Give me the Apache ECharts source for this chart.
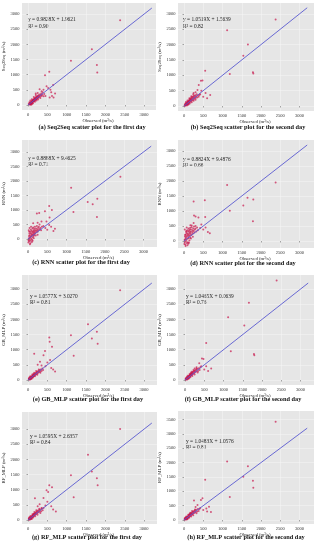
<!DOCTYPE html>
<html><head><meta charset="utf-8">
<script src="https://cdn.jsdelivr.net/npm/echarts@6/dist/echarts.min.js"></script>
<style>html,body{margin:0;padding:0;background:#fff}#c{width:316px;height:550px}</style>
</head><body><div id="c"></div>
<script>
// ---------- DATA ----------
const tickValues = [0, 500, 1000, 1500, 2000, 2500, 3000];
const tickValuesH = [0, 500, 1000, 1500, 2000, 2500, 3000, 3500];
const identityLine = [[0, 0], [3200, 3200]];

const seq2seqDay1 = [[20,30],[30,15],[40,50],[45,25],[50,60],[55,40],[60,80],[65,35],[70,70],[75,55],[80,100],[85,60],[90,90],[95,120],[100,75],[105,110],[110,140],[115,95],[120,130],[125,160],[130,105],[135,150],[140,180],[145,120],[150,170],[155,135],[160,200],[165,150],[170,190],[175,230],[180,160],[185,210],[190,175],[200,240],[205,190],[210,260],[220,200],[225,280],[230,215],[240,250],[250,300],[255,230],[260,270],[270,320],[280,250],[290,300],[300,350],[310,280],[320,230],[330,330],[340,380],[350,300],[370,340],[380,420],[400,290],[420,360],[60,150],[100,190],[150,260],[200,330],[90,20],[130,60],[180,110],[220,150],[260,180],[35,90],[70,10],[110,40],
[480,620],[520,560],[600,420],[650,660],[700,380],[300,520],[350,450],[620,300],[560,250],[250,400],[200,380],[450,300],[580,500],[400,500],[660,250],
[2380,2800],[1650,1840],[1110,1460],[1780,1320],[1790,1070],[550,1100],[440,980]];

const seq2seqDay2 = [[15,20],[25,40],[30,10],[40,60],[45,30],[55,75],[60,45],[65,100],[70,55],[80,85],[85,130],[90,70],[100,110],[105,150],[110,90],[120,140],[125,180],[130,115],[140,160],[145,210],[150,130],[160,190],[165,240],[170,150],[180,210],[185,270],[190,170],[200,230],[210,290],[215,190],[225,250],[235,310],[240,210],[250,270],[260,330],[270,240],[280,290],[290,350],[300,260],[315,320],[330,380],[340,280],[360,340],[380,300],[400,360],[50,130],[90,180],[140,250],[190,320],[240,380],[100,40],[150,80],[200,120],[250,170],[300,200],[35,80],[75,20],[120,60],
[680,360],[383,684],[300,450],[420,380],[500,300],[560,420],[250,420],[350,520],[600,250],[450,500],
[2380,2820],[1120,2470],[1660,2000],[1540,1640],[1790,1100],[1800,1060],[1190,1040],[550,1150],[440,820],[480,830]];

const rnnDay1 = [[10,-120],[15,-50],[20,20],[25,100],[30,-80],[35,180],[40,40],[45,-20],[50,120],[55,250],[60,60],[65,-60],[70,200],[75,320],[80,90],[85,10],[90,160],[95,280],[100,120],[105,-30],[110,220],[115,360],[120,150],[125,60],[130,260],[135,400],[140,180],[145,100],[150,300],[155,220],[160,140],[165,350],[170,260],[175,180],[180,420],[190,300],[200,220],[210,360],[220,280],[230,450],[240,320],[250,250],[260,380],[270,300],[280,420],[300,340],[320,380],[340,300],[360,420],[20,300],[40,380],[60,-150],[100,-100],[150,30],[200,120],[250,150],[30,250],[50,-180],[80,420],[120,-60],
[134,540],[300,500],[400,450],[450,380],[500,320],[550,480],[600,420],[661,276],[350,600],[250,560],[480,600],[700,350],
[2400,2150],[1120,1770],[1800,1390],[1550,1280],[1680,1200],[1180,930],[1790,760],[550,1140],[620,1000],[230,880],[290,900],[440,960],[560,740]];

const rnnDay2 = [[10,-100],[15,30],[20,-40],[25,150],[30,60],[35,-120],[40,220],[45,100],[50,-10],[55,300],[60,140],[65,40],[70,260],[75,-70],[80,180],[85,360],[90,80],[95,230],[100,-40],[105,310],[110,150],[115,420],[120,200],[125,90],[130,340],[135,250],[140,20],[145,380],[150,180],[155,290],[160,440],[165,120],[170,320],[175,240],[180,380],[190,200],[200,460],[210,300],[220,360],[230,250],[240,420],[250,330],[260,480],[270,280],[280,380],[300,420],[320,320],[340,450],[360,360],[20,380],[40,-170],[60,330],[90,-140],[130,-60],[180,80],[230,140],[30,200],[70,450],[110,-90],[200,520],
[165,522],[670,257],[375,780],[300,500],[420,430],[500,380],[560,450],[620,300],[250,600],[450,550],
[2380,1950],[1120,1870],[1650,1440],[1800,1380],[1540,1180],[1190,1010],[1790,660],[540,1360],[250,1320],[260,850],[300,820],[550,800]];

const gbDay1 = [[20,25],[30,45],[35,15],[45,55],[50,35],[60,70],[65,50],[70,90],[80,65],[85,105],[90,80],[100,120],[105,90],[115,135],[120,105],[130,150],[135,120],[145,170],[150,135],[160,185],[165,150],[175,200],[180,165],[190,220],[200,180],[210,240],[220,200],[230,260],[240,220],[250,280],[260,240],[270,300],[285,260],[300,320],[310,280],[330,350],[350,300],[370,380],[390,330],[60,120],[110,180],[160,240],[210,300],[80,30],[130,80],[180,120],[240,170],[40,90],[100,50],[280,350],[320,240],[25,60],[55,20],[140,200],
[570,660],[310,600],[500,580],[450,450],[600,400],[350,480],[650,350],[250,500],[700,280],
[2380,2960],[1550,1840],[1780,1590],[1650,1370],[1800,1200],[1110,1480],[1180,800],[550,1400],[560,1260],[620,1100],[440,960],[160,870],[400,820]];

const gbDay2 = [[15,25],[25,10],[30,50],[40,30],[50,70],[55,45],[65,90],[70,60],[80,110],[85,75],[95,130],[100,95],[110,150],[115,110],[125,165],[130,125],[140,185],[145,140],[155,200],[160,160],[170,220],[175,175],[185,240],[190,190],[200,260],[210,210],[220,280],[230,225],[240,300],[250,245],[260,320],[275,270],[290,340],[300,290],[320,360],[340,300],[360,390],[380,330],[400,420],[70,140],[120,200],[170,270],[220,330],[90,40],[140,90],[190,130],[250,180],[45,100],[105,60],[300,380],[330,250],[20,55],[60,15],[150,230],
[370,550],[680,380],[300,420],[500,350],[600,300],[420,450],[250,380],[550,450],
[2380,3280],[1660,2550],[1120,2070],[1540,1800],[1790,860],[1800,820],[1190,950],[550,1220],[440,710],[480,690]];

const rfDay1 = [[20,30],[25,10],[35,50],[40,25],[50,65],[55,40],[65,85],[70,55],[80,100],[85,70],[95,120],[100,85],[110,140],[115,100],[125,160],[130,120],[140,175],[145,135],[155,195],[160,150],[170,210],[175,170],[185,230],[190,185],[200,250],[210,200],[220,270],[230,220],[240,290],[250,240],[260,310],[275,260],[290,330],[300,280],[320,350],[340,290],[360,380],[380,320],[400,400],[65,130],[115,190],[165,260],[215,320],[85,35],[135,85],[185,125],[245,175],[40,95],[100,45],[290,370],[320,230],[25,65],[55,15],[145,210],
[300,520],[450,480],[600,450],[350,400],[650,350],[500,600],[250,450],[720,280],
[2380,3000],[1550,2150],[1650,1600],[1780,1380],[1800,1150],[1110,1480],[1180,750],[550,1150],[620,1080],[480,980],[520,920],[180,720],[400,730]];

const rfDay2 = [[15,20],[25,45],[30,15],[40,60],[50,35],[55,80],[65,50],[70,95],[80,65],[90,115],[95,80],[105,135],[110,95],[120,155],[130,115],[135,175],[145,130],[150,195],[160,150],[170,215],[175,165],[185,235],[195,185],[200,255],[210,200],[225,275],[230,220],[245,295],[250,240],[265,315],[275,255],[290,335],[300,275],[320,355],[340,295],[360,385],[380,315],[400,380],[60,125],[110,185],[160,255],[210,315],[85,30],[135,80],[185,120],[240,165],[40,90],[100,50],[285,365],[325,235],[20,60],[60,20],[145,205],
[300,450],[420,420],[500,350],[580,400],[350,520],[600,300],[650,460],[700,280],[260,680],
[2380,3420],[1120,2040],[1660,1870],[1540,1510],[1790,1370],[1800,1120],[1190,800],[550,1400],[440,700],[480,760]];

const modelNames = ['Seq2Seq', 'Seq2Seq', 'RNN', 'RNN', 'GB_MLP', 'GB_MLP', 'RF_MLP', 'RF_MLP'];
const equations = ['y = 0.9828X + 1.9621', 'y = 1.0519X + 1.5639', 'y = 0.8888X + 9.4625', 'y = 0.8824X + 9.4876',
                   'y = 1.0577X + 3.0270', 'y = 1.0465X + 0.0639', 'y = 1.0595X + 2.6357', 'y = 1.0483X + 1.0576'];
const r2Values = ['0.90', '0.82', '0.71', '0.66', '0.81', '0.76', '0.84', '0.81'];
const captions = ['(a) Seq2Seq scatter plot for the first day', '(b) Seq2Seq scatter plot for the second day',
                  '(c) RNN scatter plot for the first day', '(d) RNN scatter plot for the second day',
                  '(e) GB_MLP scatter plot for the first day', '(f) GB_MLP scatter plot for the second day',
                  '(g) RF_MLP scatter plot for the first day', '(h) RF_MLP scatter plot for the second day'];
const panelData = [seq2seqDay1, seq2seqDay2, rnnDay1, rnnDay2, gbDay1, gbDay2, rfDay1, rfDay2];

// ---------- LAYOUT (pixels) ----------
const layout = [
  {rect:[22,3,156,110],  x0:28,  sx:0.0387, y0:105, sy:0.0303, eq:[28,20.5],  cap:[92,127]},
  {rect:[178,3,314,111], x0:184, sx:0.0385, y0:106, sy:0.0307, eq:[183,20.5], cap:[248,127]},
  {rect:[22,140,157,247],x0:28,  sx:0.0385, y0:239, sy:0.0290, eq:[28,159],   cap:[81,262]},
  {rect:[178,140,314,248],x0:184,sx:0.0385, y0:241, sy:0.0300, eq:[183,160],  cap:[243,263]},
  {rect:[22,275,157,385],x0:28,  sx:0.0387, y0:380, sy:0.0303, eq:[30,297],   cap:[88,399]},
  {rect:[178,275,314,385],x0:185,sx:0.0385, y0:380, sy:0.0303, eq:[186,297],  cap:[243,399]},
  {rect:[22,412,157,524],x0:28,  sx:0.0387, y0:520, sy:0.0303, eq:[30,437],   cap:[87,537]},
  {rect:[178,411,314,524],x0:184,sx:0.0385, y0:520, sy:0.0287, eq:[186,442],  cap:[246,537]}
];

const serif = '"Liberation Serif", "DejaVu Serif", serif';
const grids = [], xAxes = [], yAxes = [], series = [], graphics = [];
const plain = v => String(v);

layout.forEach((L, i) => {
  const [l, t, r, b] = L.rect;
  grids.push({left: l, top: t, width: r - l, height: b - t, show: true, backgroundColor: '#e6e6e6', borderWidth: 0});
  const ticks = (i === 7) ? tickValuesH : tickValues;
  xAxes.push({
    gridIndex: i, type: 'value',
    min: (l - L.x0) / L.sx, max: (r - L.x0) / L.sx,
    axisLine: {show: false},
    axisTick: {show: true, length: 1.5, lineStyle: {color: '#555', width: 0.5}, customValues: tickValues},
    axisLabel: {customValues: tickValues, formatter: plain, fontSize: 4.5, color: '#333', margin: 2.5, fontFamily: serif},
    splitLine: {show: true, lineStyle: {color: '#f6f6f6', width: 0.5}},
    name: 'Observed (m³/s)', nameLocation: 'middle', nameGap: 8,
    nameTextStyle: {fontSize: 4.8, color: '#222', fontFamily: serif, padding: [0, 0, 0, 18]}
  });
  yAxes.push({
    gridIndex: i, type: 'value',
    min: -(b - L.y0) / L.sy, max: (L.y0 - t) / L.sy,
    axisLine: {show: false},
    axisTick: {show: true, length: 1.5, lineStyle: {color: '#555', width: 0.5}, customValues: ticks},
    axisLabel: {customValues: ticks, formatter: plain, fontSize: 4.5, color: '#333', margin: 2.5, fontFamily: serif},
    splitLine: {show: true, lineStyle: {color: '#f6f6f6', width: 0.5}},
    name: modelNames[i] + ' (m³/s)', nameLocation: 'middle', nameGap: 12,
    nameTextStyle: {fontSize: 4.8, color: '#222', fontFamily: serif}
  });
  series.push({
    type: 'scatter', xAxisIndex: i, yAxisIndex: i, data: panelData[i],
    symbol: 'circle', symbolSize: 2, silent: true,
    itemStyle: {color: 'rgba(200,16,72,0.85)'}
  });
  series.push({
    type: 'line', xAxisIndex: i, yAxisIndex: i, data: identityLine,
    symbol: 'none', silent: true, lineStyle: {color: '#5a5ad0', width: 0.9}
  });
  graphics.push({type: 'text', left: L.eq[0], top: L.eq[1] - 3,
    style: {text: equations[i], font: '5.4px ' + serif, fill: '#222'}});
  graphics.push({type: 'text', left: L.eq[0], top: L.eq[1] + 3.5,
    style: {text: 'R² = ' + r2Values[i], font: '5.4px ' + serif, fill: '#222'}});
  graphics.push({type: 'text', x: L.cap[0], y: L.cap[1],
    style: {text: captions[i], font: 'bold 6.3px ' + serif, fill: '#111', textAlign: 'center', textVerticalAlign: 'middle'}});
});

const chart = echarts.init(document.getElementById('c'), null, {renderer: 'canvas'});
chart.setOption({
  animation: false,
  backgroundColor: '#ffffff',
  grid: grids, xAxis: xAxes, yAxis: yAxes, series: series, graphic: graphics
});
</script>
</body></html>
